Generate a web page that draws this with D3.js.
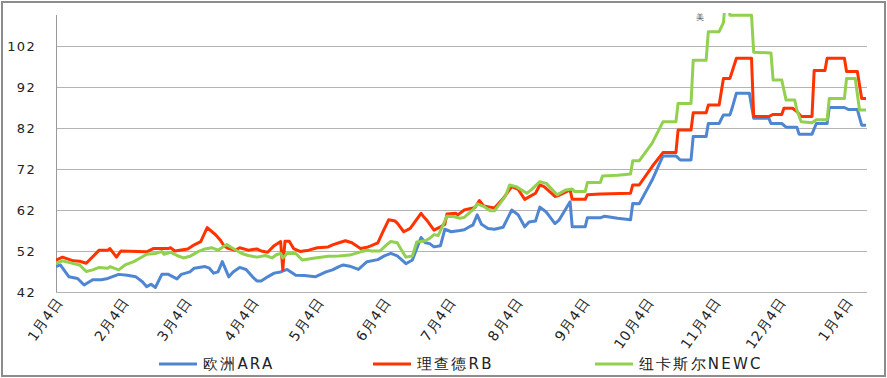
<!DOCTYPE html>
<html>
<head>
<meta charset="utf-8">
<script src="https://cdnjs.cloudflare.com/ajax/libs/d3/7.8.5/d3.min.js"></script>
<style>
    body { margin: 0; background: #fff; }
    svg { display: block; font-family: "DejaVu Sans", sans-serif; }
</style>
</head>
<body>
<svg id="chart" width="887" height="378"></svg>
<script>
'use strict';

// day offsets are counted from 2016-01-04
var seriesNames = ['欧洲ARA', '理查德RB', '纽卡斯尔NEWC'];
var yTicks = [42, 52, 62, 72, 82, 92, 102];

var euDays = [0, 2, 6, 10, 13, 17, 21, 24, 29, 33,
    37, 40, 42, 44, 46, 49, 52, 56, 58, 62,
    64, 69, 71, 73, 75, 77, 80, 82, 85, 88,
    91, 93, 95, 98, 101, 104, 107, 111, 115, 120,
    125, 128, 131, 133, 136, 140, 144, 149, 152, 155,
    158, 161, 162, 165, 169, 171, 173, 175, 178, 180,
    183, 187, 189, 192, 193, 195, 197, 200, 203, 207,
    211, 214, 217, 219, 222, 224, 227, 231, 233, 238,
    239, 245, 246, 252, 254, 260, 266, 267, 270, 276,
    281, 287, 289, 294, 295, 301, 302, 307, 309, 312,
    313, 315, 321, 323, 330, 331, 336, 338, 343, 344,
    350, 352, 357, 358, 365, 367, 371, 373, 375];
var euVals = [48.2, 48.6, 45.7, 45.3, 43.7, 45.0, 45.0, 45.3, 46.3, 46.1,
    45.7, 44.5, 43.3, 43.9, 43.1, 46.3, 46.3, 45.2, 46.3, 46.9,
    47.8, 48.2, 47.8, 46.6, 46.9, 49.4, 45.7, 46.9, 48.0, 47.5,
    45.7, 44.7, 44.7, 45.7, 46.6, 46.9, 47.5, 46.1, 46.0, 45.7,
    46.9, 47.4, 48.2, 48.6, 48.3, 47.5, 49.4, 49.9, 50.8, 51.4,
    50.8, 49.4, 48.9, 49.8, 55.3, 54.0, 53.8, 53.0, 53.3, 57.3,
    56.7, 57.0, 57.2, 58.1, 58.3, 60.8, 58.5, 57.5, 57.3, 57.8,
    62.0, 60.8, 57.9, 59.1, 59.3, 62.7, 61.5, 58.7, 59.6, 64.0,
    57.9, 57.9, 60.1, 60.1, 60.5, 60.0, 59.6, 63.6, 63.5, 69.3,
    75.2, 75.2, 74.2, 74.2, 79.9, 79.9, 83.1, 83.1, 85.2, 85.2,
    86.8, 90.5, 90.5, 84.4, 84.4, 83.1, 83.1, 82.2, 82.2, 80.5,
    80.5, 83.1, 83.1, 87.0, 87.0, 86.5, 86.5, 82.7, 82.7];

var rbDays = [0, 3, 8, 11, 14, 20, 24, 25, 28, 30,
    42, 45, 52, 53, 55, 61, 64, 67, 70, 74,
    76, 78, 80, 83, 85, 89, 93, 95, 98, 101,
    104, 105, 106, 108, 110, 113, 117, 121, 126, 128,
    131, 134, 137, 141, 144, 146, 149, 151, 154, 157,
    158, 161, 164, 166, 169, 170, 172, 175, 178, 180,
    181, 185, 186, 189, 192, 194, 196, 198, 201, 203,
    207, 211, 214, 217, 219, 222, 224, 226, 231, 233,
    238, 239, 245, 246, 252, 266, 267, 270, 276, 281,
    287, 288, 294, 295, 301, 302, 307, 309, 312, 313,
    315, 322, 323, 330, 332, 336, 337, 341, 343, 345,
    350, 351, 356, 357, 365, 366, 371, 373, 375];
var rbVals = [49.8, 50.5, 49.6, 49.5, 49.0, 52.2, 52.2, 52.6, 50.5, 52.0,
    51.8, 52.6, 52.6, 52.8, 52.0, 52.5, 53.5, 54.3, 57.7, 55.9,
    54.7, 53.1, 52.6, 52.2, 52.8, 52.2, 52.5, 52.0, 51.7, 53.3,
    54.3, 47.4, 54.4, 54.4, 52.6, 51.9, 52.2, 52.8, 53.0, 53.5,
    54.0, 54.5, 54.0, 52.6, 52.9, 53.3, 54.0, 56.3, 59.6, 59.3,
    58.8, 56.7, 57.5, 59.0, 61.2, 60.5, 59.3, 57.1, 57.9, 58.5,
    61.0, 61.2, 60.8, 62.0, 62.4, 62.6, 64.3, 63.0, 62.7, 62.5,
    64.8, 67.7, 67.0, 64.6, 65.2, 66.1, 68.1, 67.7, 65.3, 65.6,
    66.9, 64.6, 64.6, 65.7, 65.9, 66.1, 68.1, 68.1, 72.6, 76.0,
    76.0, 81.5, 81.5, 85.7, 85.7, 87.6, 87.6, 94.1, 94.1, 95.7,
    99.0, 99.0, 84.8, 84.8, 85.3, 85.3, 86.8, 86.8, 86.0, 84.8,
    84.8, 96.0, 96.0, 99.0, 99.0, 95.8, 95.8, 89.2, 89.2];

var ncDays = [0, 3, 9, 11, 14, 17, 20, 24, 25, 29,
    32, 36, 39, 42, 46, 49, 50, 53, 56, 59,
    62, 66, 69, 72, 75, 79, 82, 86, 89, 93,
    97, 100, 102, 104, 105, 107, 111, 114, 120, 126,
    131, 136, 141, 144, 146, 150, 153, 155, 158, 160,
    162, 165, 167, 171, 173, 175, 177, 179, 181, 184,
    187, 189, 192, 193, 195, 198, 201, 203, 208, 210,
    213, 218, 220, 224, 227, 232, 236, 239, 240, 245,
    246, 252, 253, 260, 266, 267, 270, 276, 281, 287,
    288, 294, 295, 301, 302, 307, 309, 310, 311, 312,
    322, 323, 331, 332, 336, 338, 342, 343, 345, 350,
    352, 357, 358, 365, 366, 370, 372, 375];
var ncVals = [49.0, 49.6, 48.8, 48.6, 47.0, 47.4, 48.0, 47.8, 48.2, 47.4,
    48.6, 49.4, 50.3, 51.2, 51.4, 51.9, 51.2, 51.7, 50.9, 50.3,
    50.7, 51.9, 52.5, 52.8, 52.2, 53.6, 52.6, 51.4, 50.9, 50.5,
    50.9, 50.3, 51.1, 51.4, 50.3, 51.4, 51.4, 49.8, 50.3, 50.7,
    50.8, 51.0, 51.8, 52.2, 52.0, 52.0, 53.5, 54.3, 54.0, 52.2,
    50.5, 50.8, 54.2, 54.5, 55.1, 56.0, 55.8, 58.1, 60.5, 60.4,
    60.0, 60.2, 61.6, 62.0, 63.5, 62.9, 61.8, 61.8, 65.3, 68.1,
    67.7, 66.1, 66.9, 68.9, 68.5, 65.7, 66.9, 67.1, 66.5, 66.5,
    68.7, 68.7, 70.3, 70.5, 70.8, 74.0, 74.0, 78.3, 83.5, 83.5,
    88.0, 88.0, 98.5, 98.5, 105.5, 105.5, 107.7, 114, 114, 109.5,
    109.5, 100.5, 100.3, 93.7, 93.7, 88.8, 88.8, 86.4, 83.5, 83.3,
    84.0, 84.0, 89.2, 89.2, 94.1, 94.1, 86.4, 86.4];

var colors = ['#4f86d2', '#ff3300', '#92d050'];

var svg = d3.select('#chart'),
    startDate = new Date(2016, 0, 4),
    endDate = new Date(2017, 0, 13),
    plot = { left: 56, right: 867, top: 15, bottom: 292 };

var x = d3.scaleTime().domain([startDate, endDate]).range([plot.left, plot.right - 1]);
var y = d3.scaleLinear().domain([42, 109.56]).range([plot.bottom, plot.top]);

function toSeries(days, vals) {
    return days.map(function (d, i) {
        return { date: d3.timeDay.offset(startDate, d), value: vals[i] };
    });
}

var series = [
    toSeries(euDays, euVals),
    toSeries(rbDays, rbVals),
    toSeries(ncDays, ncVals)
];

//outer frame
svg.append('rect')
    .attr('x', 2).attr('y', 2)
    .attr('width', 883).attr('height', 374)
    .attr('fill', 'none')
    .attr('stroke', '#8c8c8c')
    .attr('stroke-width', 2);

//gridlines
svg.append('g')
    .selectAll('line')
    .data(yTicks)
    .enter().append('line')
    .attr('x1', plot.left).attr('x2', plot.right)
    .attr('y1', d => Math.round(y(d)) + 0.5)
    .attr('y2', d => Math.round(y(d)) + 0.5)
    .attr('stroke', '#b4b4b4')
    .attr('stroke-width', 1);

//y axis line
svg.append('line')
    .attr('x1', plot.left + 0.5).attr('x2', plot.left + 0.5)
    .attr('y1', plot.top).attr('y2', plot.bottom)
    .attr('stroke', '#9a9a9a');

//y labels
svg.append('g')
    .selectAll('text')
    .data(yTicks)
    .enter().append('text')
    .attr('x', 36)
    .attr('y', d => y(d))
    .attr('dy', '0.36em')
    .attr('text-anchor', 'end')
    .attr('font-size', 13)
    .attr('letter-spacing', 1.3)
    .attr('fill', '#222')
    .text(d => d);

//x labels, one per month on the 4th
var monthTicks = d3.range(13).map(m => new Date(2016, m, 4));
svg.append('g')
    .selectAll('text')
    .data(monthTicks)
    .enter().append('text')
    .attr('transform', d => 'translate(' + (x(d) + 7) + ',302) rotate(-55)')
    .attr('text-anchor', 'end')
    .attr('font-size', 14)
    .attr('letter-spacing', 0.8)
    .attr('fill', '#222')
    .text(d => (d.getMonth() + 1) + '月' + d.getDate() + '日');

//lines, clipped to the plot area
svg.append('clipPath').attr('id', 'plotClip')
    .append('rect')
    .attr('x', plot.left).attr('y', 13)
    .attr('width', plot.right - plot.left).attr('height', plot.bottom - 13);

var line = d3.line()
    .x(d => x(d.date))
    .y(d => y(d.value));

svg.append('g')
    .attr('clip-path', 'url(#plotClip)')
    .selectAll('path')
    .data(series)
    .enter().append('path')
    .attr('d', line)
    .attr('fill', 'none')
    .attr('stroke', (d, i) => colors[i])
    .attr('stroke-width', 3)
    .attr('stroke-linejoin', 'round');

//small stray label near the top
svg.append('text')
    .attr('x', 700).attr('y', 20)
    .attr('text-anchor', 'middle')
    .attr('font-size', 8)
    .attr('fill', '#444')
    .text('美');

//legend
var legendX = [159, 373, 595];
var legend = svg.append('g')
    .selectAll('g')
    .data(seriesNames)
    .enter().append('g')
    .attr('transform', (d, i) => 'translate(' + legendX[i] + ',364)');

legend.append('line')
    .attr('x1', 0).attr('x2', 38)
    .attr('y1', 0).attr('y2', 0)
    .attr('stroke', (d, i) => colors[i])
    .attr('stroke-width', 3);

legend.append('text')
    .attr('x', 44)
    .attr('dy', '0.36em')
    .attr('font-size', 15)
    .attr('letter-spacing', 2.2)
    .attr('fill', '#222')
    .text(d => d);
</script>
</body>
</html>
